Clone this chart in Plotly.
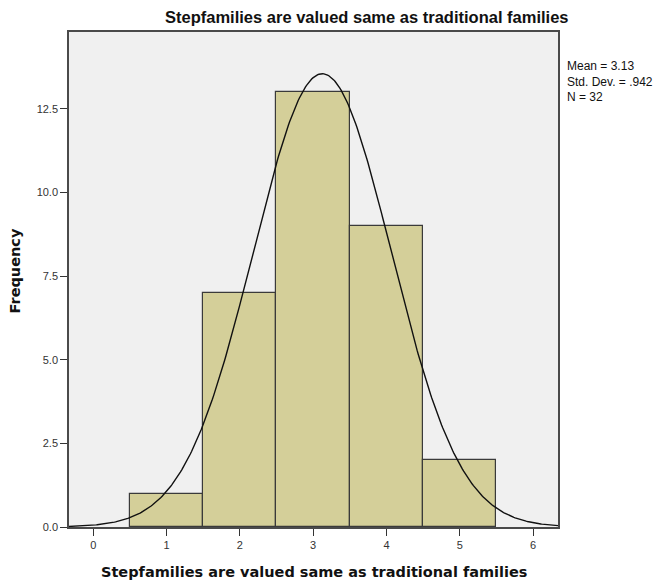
import numpy as np
import plotly.graph_objects as go

categories = [1, 2, 3, 4, 5]
frequencies = [1, 7, 13, 9, 2]
mean_val = 3.125
std_dev = 0.942
n_total = 32
x_ticks = [0, 1, 2, 3, 4, 5, 6]
y_ticks = [0.0, 2.5, 5.0, 7.5, 10.0, 12.5]

title_text = "Stepfamilies are valued same as traditional families"

x_range = [-0.33, 6.34]
xs = np.linspace(x_range[0], x_range[1], 400)
curve = n_total * 1.0 / (std_dev * np.sqrt(2 * np.pi)) * np.exp(-0.5 * ((xs - mean_val) / std_dev) ** 2)

W, H = 653, 580
L, R, T, B = 61, 103, 24, 61

fig = go.Figure()
fig.add_trace(go.Bar(
    x=categories, y=frequencies, width=1.0,
    marker=dict(color="#d4cf99", line=dict(color="#3a3a3a", width=1.2)),
    hoverinfo="x+y",
))
fig.add_trace(go.Scatter(
    x=xs, y=curve, mode="lines",
    line=dict(color="#111111", width=1.4),
    hoverinfo="skip",
))

fig.update_layout(
    width=W, height=H,
    margin=dict(l=L, r=R, t=T, b=B),
    paper_bgcolor="white",
    plot_bgcolor="#f0f0f0",
    showlegend=False,
    font=dict(family="Liberation Sans, Arial, sans-serif", color="#222222"),
    bargap=0,
)
fig.update_xaxes(
    range=x_range, tickvals=x_ticks, ticktext=[str(v) for v in x_ticks],
    ticks="outside", ticklen=7, tickcolor="#333333",
    showline=True, linecolor="#4a4a4a", linewidth=1.5, mirror=True,
    showgrid=False, zeroline=False,
    tickfont=dict(size=11, color="#333333"),
)
fig.update_yaxes(
    range=[0, 14.8], tickvals=y_ticks, ticktext=["%.1f" % v for v in y_ticks],
    ticks="outside", ticklen=7, tickcolor="#333333",
    showline=True, linecolor="#4a4a4a", linewidth=1.5, mirror=True,
    showgrid=False, zeroline=False,
    tickfont=dict(size=11, color="#333333"),
)
# chart title
fig.add_annotation(
    text="<b>" + title_text + "</b>",
    xref="paper", yref="paper", x=(358.5 - L) / (W - L - R), y=1, xanchor="center", yanchor="bottom",
    yshift=4, showarrow=False,
    font=dict(size=16.5, color="#111111", family="Liberation Sans, Arial, sans-serif"),
)
# x-axis title
fig.add_annotation(
    text="<b>" + title_text + "</b>",
    xref="paper", yref="paper", x=0.5, y=0, xanchor="center", yanchor="top",
    yshift=-35, showarrow=False,
    font=dict(size=14.5, color="#111111", family="DejaVu Sans, Verdana, sans-serif"),
)
# y-axis title
fig.add_annotation(
    text="<b>Frequency</b>", textangle=-90,
    xref="paper", yref="paper", x=0, y=0.5, xanchor="center", yanchor="middle",
    xshift=-55, yshift=8, showarrow=False,
    font=dict(size=14.5, color="#111111", family="DejaVu Sans, Verdana, sans-serif"),
)
# stats box
fig.add_annotation(
    text="Mean = 3.13<br>Std. Dev. = .942<br>N = 32",
    xref="paper", yref="paper", x=1.0143, y=0.95, xanchor="left", yanchor="top",
    align="left", showarrow=False,
    font=dict(size=12, color="#111111"),
)

fig.write_html("out.html")
